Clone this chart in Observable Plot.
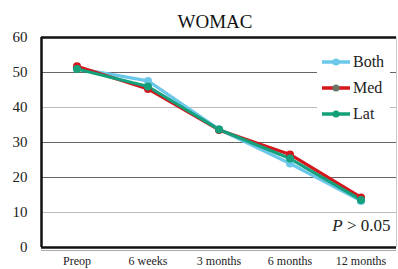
<!DOCTYPE html>
<html><head><meta charset="utf-8">
<script src="https://cdn.jsdelivr.net/npm/d3@7"></script>
<script src="https://cdn.jsdelivr.net/npm/@observablehq/plot@0.6"></script>
</head>
<body style="margin:0;background:#fff;">
<div id="wrap" style="position:relative;width:398px;height:269px;font-family:'Liberation Serif';"><div id="chart"></div><div id="legend" style="position:absolute;left:317px;top:52px;width:73px;height:72px;background:#fff;"></div></div>
<script>
const categories = ["Preop","6 weeks","3 months","6 months","12 months"];
const both = [51.2, 47.6, 33.8, 24.0, 13.3];
const med  = [51.8, 45.3, 33.6, 26.6, 14.3];
const lat  = [51.0, 46.0, 33.7, 25.4, 13.6];
const seriesNames = ["Both","Med","Lat"];
const seriesColors = ["#6cc8ea","#d4161d","#14a07a"];
const yTicks = [0,10,20,30,40,50,60];
const gridDark = [50,30,20];
const gridLight = [40,10];

const rows = [];
[both, med, lat].forEach((vals, s) => vals.forEach((v, i) => rows.push({series: seriesNames[s], i, v})));

const serif = "'Liberation Serif'";
const chart = Plot.plot({
  width: 398, height: 269,
  marginLeft: 41, marginRight: 2, marginTop: 37, marginBottom: 22,
  style: {fontFamily: serif, background: "#fff"},
  x: {domain: [-0.5, categories.length - 0.5], ticks: categories.map((d, i) => i), tickFormat: i => categories[i], tickSize: 0, tickPadding: 9, label: null},
  y: {domain: [0, 60], ticks: yTicks, tickSize: 0, tickPadding: 14, label: null},
  color: {domain: seriesNames, range: seriesColors},
  marks: [
    Plot.ruleY(gridDark, {stroke: "#666", strokeWidth: 1}),
    Plot.ruleY(gridLight, {stroke: "#bbb", strokeWidth: 1}),
    Plot.ruleX([categories.length - 0.5], {stroke: "#ccc", strokeWidth: 1}),
    Plot.ruleY([60], {stroke: "#111", strokeWidth: 2.5}),
    Plot.ruleY([0], {stroke: "#aaa", strokeWidth: 1, dy: 3}),
    Plot.ruleY([0], {stroke: "#111", strokeWidth: 2.5}),
    Plot.ruleX([-0.5], {stroke: "#111", strokeWidth: 2.5}),
    Plot.axisY({ticks: yTicks, tickSize: 0, tickPadding: 14, fontSize: 15, fill: "#222", label: null}),
    Plot.axisX({ticks: categories.map((d, i) => i), tickFormat: i => categories[i], tickSize: 0, tickPadding: 9, fontSize: 12, fill: "#222", label: null}),
    Plot.line(rows, {x: "i", y: "v", z: "series", stroke: "series", strokeWidth: 3.2}),
    Plot.dot(rows, {x: "i", y: "v", fill: "series", r: 4}),
    Plot.text(["WOMAC"], {frameAnchor: "top", lineAnchor: "middle", dx: -4, dy: -16, fontSize: 19, fill: "#111"}),
    Plot.text(["P > 0.05"], {frameAnchor: "bottom-right", lineAnchor: "middle", dx: -6, dy: -22, textAnchor: "end", fontSize: 17, fill: "#222"})
  ]
});
document.getElementById("chart").append(chart);
chart.style.setProperty("font-family", serif, "important");
chart.querySelectorAll("text, g").forEach(e => e.style.setProperty("font-family", serif, "important"));
// italicize P
const t = [...chart.querySelectorAll("text")].find(e => e.textContent === "P > 0.05");
if (t) { t.textContent = ""; const a = document.createElementNS("http://www.w3.org/2000/svg","tspan"); a.setAttribute("font-style","italic"); a.style.fontStyle = "italic"; a.textContent = "P"; const b = document.createElementNS("http://www.w3.org/2000/svg","tspan"); b.textContent = " > 0.05"; t.append(a, b); }

const legend = document.getElementById("legend");
const legendDots = ["#6cc8ea","#6b7568","#14a07a"];
seriesNames.forEach((name, k) => {
  const item = document.createElement("div");
  item.style.cssText = `position:absolute;left:0;top:${k * 26}px;height:20px;display:flex;align-items:center;font-size:16px;color:#222;font-family:'Liberation Serif'`;
  item.innerHTML = `<svg width="36" height="20"><line x1="5" x2="33" y1="10" y2="10" stroke="${seriesColors[k]}" stroke-width="3.5"/><circle cx="19" cy="10" r="3.5" fill="${legendDots[k]}"/></svg><span style="font-family:'Liberation Serif'">${name}</span>`;
  legend.append(item);
});
</script></body></html>
